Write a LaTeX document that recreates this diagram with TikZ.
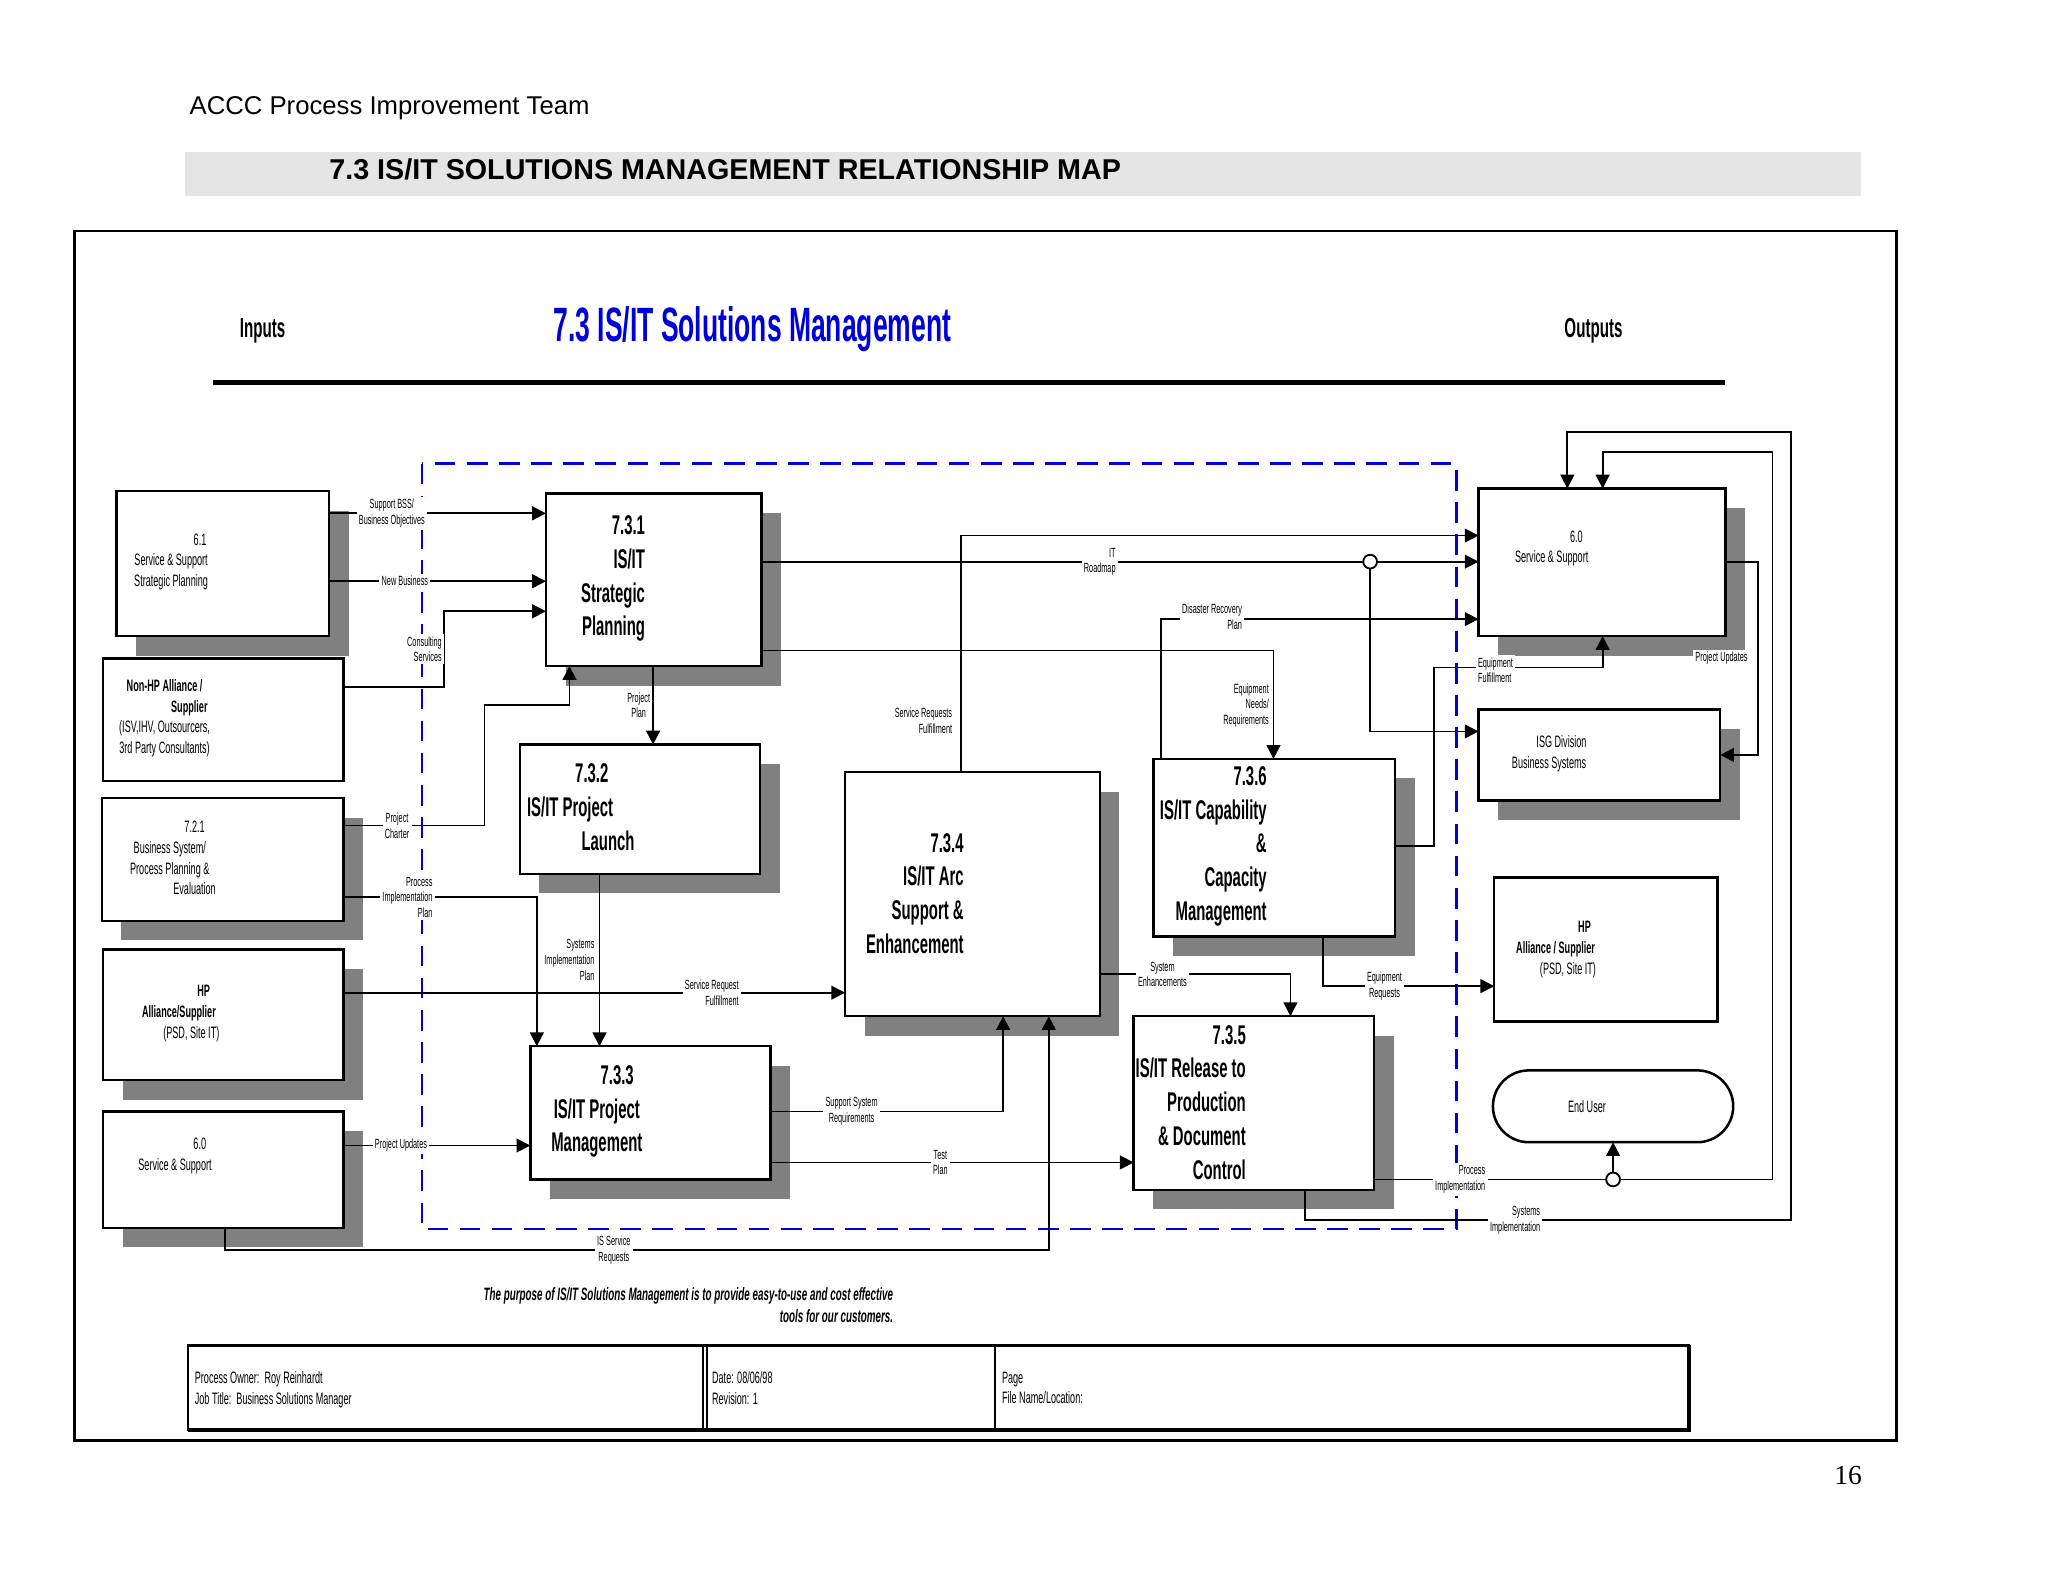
\documentclass[tikz,border=0pt]{standalone}
\usepackage{fontspec}
\setmainfont{Liberation Sans}
\newfontfamily\nar{Liberation Sans}[FakeStretch=0.55]
\newfontfamily\ser{Liberation Serif}
\usetikzlibrary{arrows.meta,shapes.misc}
\tikzset{
  box/.style={draw, line width=1.1pt, fill=white, inner sep=0pt, outer sep=0pt},
  shade/.style={fill=black!50},
  flow/.style={line width=0.8pt},
  arr/.style={flow,-{Triangle[length=6pt,width=6pt]}},
  lbl/.style={font=\nar\fontsize{5.8}{6.8}\selectfont, fill=white, inner sep=1pt, align=center},
  etxt/.style={font=\nar\fontsize{7.2}{9}\selectfont, align=center},
  ptitle/.style={font=\nar\bfseries\fontsize{11.8}{14.7}\selectfont, align=right, anchor=east},
  jn/.style={draw, fill=white, circle, inner sep=0pt, minimum size=6pt, line width=0.8pt},
}
% box with shadow: [shadow on/off] name x1 y1 x2 y2
\newcommand\mkbox[6][shade]{%
  \fill[#1] ({#3+15},{#4+15}) rectangle ({#5+15},{#6+15});
  \node[box, minimum width={(#5-#3)*0.02cm}, minimum height={(#6-#4)*0.02cm}]
    (#2) at ({(#3+#5)/2},{(#4+#6)/2}) {};}
\begin{document}
\begin{tikzpicture}[x=0.02cm, y=-0.02cm]
\useasboundingbox (0,0) rectangle (1568,1211);
%%%%% Page head %%%%%
\node[anchor=west, font=\fontsize{11.2}{13}\selectfont] (team) at (139,83) {ACCC Process Improvement Team};
\fill[black!10] (142,116) rectangle (1425,150);
\node[anchor=west, font=\bfseries\fontsize{12.5}{14}\selectfont] (head) at (246,130) {7.3 IS/IT SOLUTIONS MANAGEMENT RELATIONSHIP MAP};
\draw[line width=1.1pt] (57,177) rectangle (1452,1103);
\node[font=\ser\fontsize{12}{14}\selectfont] (pg) at (1415,1130) {16};
%%%%% Titles %%%%%
\node[font=\nar\bfseries\fontsize{12}{14}\selectfont] (inp) at (201,253) {Inputs};
\node[font=\nar\bfseries\fontsize{12}{14}\selectfont] (outp) at (1220,253) {Outputs};
\node[font=\nar\bfseries\fontsize{21}{24}\selectfont, text=blue!85!black] (ttl) at (576,252) {7.3 IS/IT Solutions Management};
\draw[line width=2.4pt] (163,293) -- (1321,293);
\draw[blue!85!black, line width=1.1pt, dash pattern=on 9pt off 5pt] (323,355) rectangle (1115,941);
%%%%% Boxes %%%%%
\mkbox{b61}{89}{376}{252}{487}
\mkbox[white]{nonhp}{79}{504}{263}{598}
\mkbox{b721}{78}{611}{263}{705}
\mkbox{hpin}{79}{727}{263}{827}
\mkbox{s60in}{79}{851}{263}{940}
\mkbox{p731}{418}{378}{583}{510}
\mkbox{p732}{398}{570}{582}{669}
\mkbox{p733}{406}{801}{590}{903}
\mkbox{p734}{647}{591}{842}{778}
\mkbox{p736}{883}{581}{1068}{717}
\mkbox{p735}{868}{778}{1052}{911}
\mkbox{o60}{1132}{374}{1321}{487}
\mkbox{isg}{1132}{543}{1317}{613}
\mkbox[white]{hpout}{1144}{672}{1315}{782}
\node[box, rounded rectangle, minimum width=3.68cm, minimum height=1.1cm] (enduser) at (1235,847) {};
%%%%% Box texts %%%%%
\node[etxt] at (131,430) {\hspace*{3.5em}6.1\\Service \& Support\\Strategic Planning};
\node[etxt] at (126,550) {\textbf{Non-HP Alliance /}\\\hspace*{3em}\textbf{Supplier}\\(ISV,IHV, Outsourcers,\\3rd Party Consultants)};
\node[etxt] at (130,657) {\hspace*{3em}7.2.1\\Business System/\\Process Planning \&\\\hspace*{3em}Evaluation};
\node[etxt] at (137,776) {\hspace*{3em}\textbf{HP}\\\textbf{Alliance/Supplier}\\\hspace*{1.5em}(PSD, Site IT)};
\node[etxt] at (134,885) {\hspace*{3em}6.0\\Service \& Support};
\node[etxt] at (1188,420) {\hspace*{3em}6.0\\Service \& Support};
\node[etxt] at (1186,577) {\hspace*{1.5em}ISG Division\\Business Systems};
\node[etxt] at (1191,727) {\hspace*{3.5em}\textbf{HP}\\\textbf{Alliance / Supplier}\\\hspace*{1.5em}(PSD, Site IT)};
\node[etxt] at (1215,847) {End User};
\node[ptitle] at (500,443) {7.3.1\\IS/IT\\Strategic\\Planning};
\node[ptitle, align=center] at (492,618) {7.3.2\\\hspace*{-1.6em}IS/IT Project\\\hspace*{1.2em}Launch};
\node[ptitle, align=center] at (498,851) {\hspace*{1.5em}7.3.3\\IS/IT Project\\Management};
\node[ptitle] at (744,684) {7.3.4\\IS/IT Arc\\Support \&\\Enhancement};
\node[ptitle] at (976,648) {7.3.6\\IS/IT Capability\\\&\\Capacity\\Management};
\node[ptitle] at (960,844) {7.3.5\\IS/IT Release to\\Production\\\& Document\\Control};
%%%%% Connectors %%%%%
\coordinate (j1) at (1049,430);
\coordinate (j2) at (1235,903);
\draw[arr] (b61.east|-0,393) -- (p731.west|-0,393);
\draw[arr] (b61.east|-0,445) -- (p731.west|-0,445);
\draw[arr] (nonhp.east|-0,526) -- (340,526) -- (340,468) -- (p731.west|-0,468);
\draw[arr] (b721.east|-0,632) -- (371,632) -- (371,540) -- (436,540) -- (p731.south-|436,0);
\draw[arr] (b721.east|-0,687) -- (411,687) -- (p733.north-|411,0);
\draw[arr] (hpin.east|-0,760) -- (p734.west|-0,760);
\draw[arr] (p731.south-|500,0) -- (p732.north-|500,0);
\draw[arr] (p732.south-|459,0) -- (p733.north-|459,0);
\draw[arr] (s60in.east|-0,877) -- (p733.west|-0,877);
\draw[arr] (s60in.south-|172,0) -- (172,957) -- (803,957) -- (p734.south-|803,0);
\draw[arr] (p733.east|-0,851) -- (768,851) -- (p734.south-|768,0);
\draw[arr] (p733.east|-0,890) -- (p735.west|-0,890);
\draw[arr] (p731.east|-0,430) -- (o60.west|-0,430);
\draw[arr] (p734.north-|736,0) -- (736,410) -- (o60.west|-0,410);
\draw[arr] (p731.east|-0,498) -- (975,498) -- (p736.north-|975,0);
\draw[arr] (p736.north-|889,0) -- (889,474) -- (o60.west|-0,474);
\draw[arr] (j1) -- (1049,560) -- (isg.west|-0,560);
\draw[arr] (p736.east|-0,648) -- (1098,648) -- (1098,511) -- (1227,511) -- (o60.south-|1227,0);
\draw[arr] (p736.south-|1013,0) -- (1013,755) -- (hpout.west|-0,755);
\draw[arr] (p734.east|-0,746) -- (988,746) -- (p735.north-|988,0);
\draw[arr] (p735.east|-0,903) -- (1357,903) -- (1357,346) -- (1227,346) -- (o60.north-|1227,0);
\draw[arr] (j2) -- (enduser.south-|1235,0);
\draw[arr] (p735.south-|999,0) -- (999,934) -- (1371,934) -- (1371,331) -- (1200,331) -- (o60.north-|1200,0);
\draw[arr] (o60.east|-0,430) -- (1346,430) -- (1346,578) -- (isg.east|-0,578);
\node[jn] at (j1) {};
\node[jn] at (j2) {};
%%%%% Connector labels %%%%%
\node[lbl] at (300,393) {Support BSS/\\Business Objectives};
\node[lbl] at (310,445) {New Business};
\node[lbl, align=right] at (325,497) {Consulting\\Services};
\node[lbl] at (304,632) {Project\\Charter};
\node[lbl, align=right] at (312,687) {Process\\Implementation\\Plan};
\node[lbl, align=right] at (436,735) {Systems\\Implementation\\Plan};
\node[lbl, align=right] at (545,760) {Service Request\\Fulfillment};
\node[lbl] at (489,540) {Project\\Plan};
\node[lbl] at (307,877) {Project Updates};
\node[lbl] at (470,957) {IS Service\\Requests};
\node[lbl] at (652,851) {Support System\\Requirements};
\node[lbl] at (720,890) {Test\\Plan};
\node[lbl, align=right] at (842,430) {IT\\Roadmap};
\node[lbl, align=right] at (707,552) {Service Requests\\Fulfillment};
\node[lbl, align=right] at (928,472) {Disaster Recovery\\Plan};
\node[lbl, align=right] at (954,540) {Equipment\\Needs/\\Requirements};
\node[lbl, align=left] at (1145,513) {Equipment\\Fulfillment};
\node[lbl] at (1060,755) {Equipment\\Requests};
\node[lbl] at (890,746) {System\\Enhancements};
\node[lbl, align=right] at (1118,903) {Process\\Implementation};
\node[lbl, align=right] at (1160,934) {Systems\\Implementation};
\node[lbl] at (1318,504) {Project Updates};
%%%%% Purpose and footer %%%%%
\node[font=\nar\bfseries\itshape\fontsize{7.8}{9.5}\selectfont, align=right] (purp) at (527,999) {The purpose of IS/IT Solutions Management is to provide easy-to-use and cost effective\\tools for our customers.};
\draw[line width=1.1pt] (144,1030) rectangle (1293,1095);
\draw[line width=1.6pt] (144,1095) -- (1293,1095) -- (1293,1030);
\draw[line width=0.8pt] (538,1030) -- (538,1095) (541,1030) -- (541,1095) (762,1030) -- (762,1095);
\node[etxt, anchor=north west, align=left] (own) at (143,1044) {Process Owner:\ \ Roy Reinhardt\\Job Title:\ \ Business Solutions Manager};
\node[etxt, anchor=north west, align=left] (dt) at (539,1044) {Date: 08/06/98\\Revision: 1};
\node[etxt, anchor=north west, align=left] (pgf) at (761,1044) {Page\\File Name/Location:};
\end{tikzpicture}
\end{document}
